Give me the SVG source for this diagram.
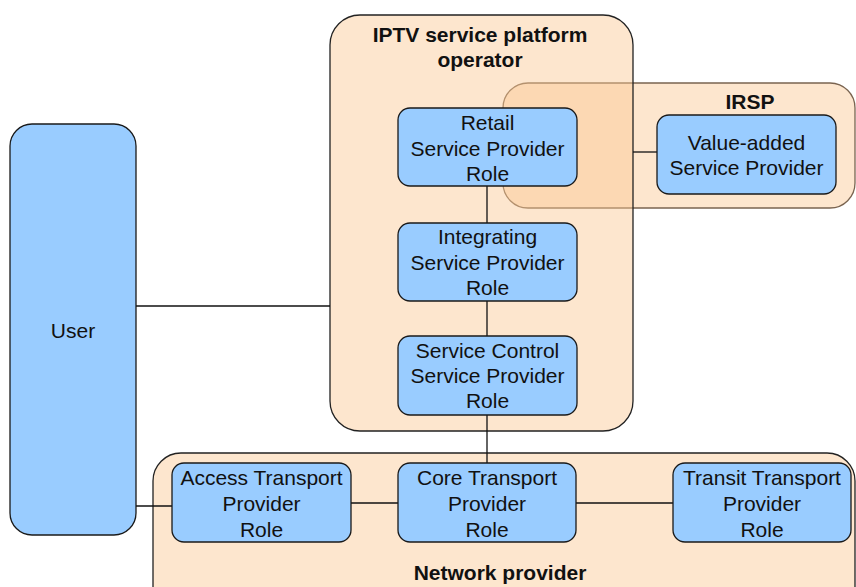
<svg xmlns="http://www.w3.org/2000/svg" width="856" height="587" viewBox="0 0 856 587">
<style>
.cont{fill:#fbc893;fill-opacity:0.45;stroke:#222;stroke-width:1.3}
.irsp{fill:#fbc893;fill-opacity:0.45;stroke:#7a6450;stroke-width:1.3}
.node{fill:#99ccff;stroke:#1a1a1a;stroke-width:1.3}
.t{font-family:"Liberation Sans",Arial,sans-serif;font-size:21px;fill:#111;text-anchor:middle}
.b{font-family:"Liberation Sans",Arial,sans-serif;font-size:21px;font-weight:bold;fill:#111;text-anchor:middle}
.c{stroke:#111;stroke-width:1.3;fill:none}
</style>
<rect width="856" height="587" fill="#fff"/>
<g id="network-provider">
<rect class="cont" x="153" y="453" width="702" height="170" rx="28"/>
<text class="b" x="500" y="580">Network provider</text>
</g>
<g id="irsp">
<rect class="irsp" x="503" y="83" width="352" height="125" rx="25"/>
<text class="b" x="750" y="109">IRSP</text>
</g>
<g id="iptv-operator">
<rect class="cont" x="330" y="15" width="303" height="416" rx="30"/>
<text class="b" x="480" y="42">IPTV service platform</text>
<text class="b" x="480" y="67">operator</text>
</g>
<g id="connectors">
<line class="c" x1="487" y1="186" x2="487" y2="223"/>
<line class="c" x1="487" y1="301" x2="487" y2="336"/>
<line class="c" x1="487" y1="415" x2="487" y2="463"/>
<line class="c" x1="136" y1="306" x2="330" y2="306"/>
<line class="c" x1="136" y1="506" x2="172" y2="506"/>
<line class="c" x1="351" y1="503" x2="398" y2="503"/>
<line class="c" x1="576" y1="503" x2="673" y2="503"/>
<line class="c" x1="633" y1="152" x2="657" y2="152"/>
</g>
<g id="user">
<rect class="node" x="10" y="124" width="126" height="411" rx="22"/>
<text class="t" x="73" y="338">User</text>
</g>
<g id="retail">
<rect class="node" x="398" y="108" width="179" height="78" rx="12"/>
<text class="t" x="487.5" y="130">Retail</text>
<text class="t" x="487.5" y="156">Service Provider</text>
<text class="t" x="487.5" y="181">Role</text>
</g>
<g id="value-added">
<rect class="node" x="657" y="115" width="179" height="79" rx="12"/>
<text class="t" x="746.5" y="150">Value-added</text>
<text class="t" x="746.5" y="175">Service Provider</text>
</g>
<g id="integrating">
<rect class="node" x="398" y="223" width="179" height="78" rx="12"/>
<text class="t" x="487.5" y="244">Integrating</text>
<text class="t" x="487.5" y="270">Service Provider</text>
<text class="t" x="487.5" y="295">Role</text>
</g>
<g id="service-control">
<rect class="node" x="398" y="336" width="179" height="79" rx="12"/>
<text class="t" x="487.5" y="358">Service Control</text>
<text class="t" x="487.5" y="383">Service Provider</text>
<text class="t" x="487.5" y="408">Role</text>
</g>
<g id="access">
<rect class="node" x="172" y="463" width="179" height="79" rx="12"/>
<text class="t" x="261.5" y="485">Access Transport</text>
<text class="t" x="261.5" y="511">Provider</text>
<text class="t" x="261.5" y="537">Role</text>
</g>
<g id="core">
<rect class="node" x="398" y="463" width="178" height="79" rx="12"/>
<text class="t" x="487" y="485">Core Transport</text>
<text class="t" x="487" y="511">Provider</text>
<text class="t" x="487" y="537">Role</text>
</g>
<g id="transit">
<rect class="node" x="673" y="463" width="178" height="79" rx="12"/>
<text class="t" x="762" y="485">Transit Transport</text>
<text class="t" x="762" y="511">Provider</text>
<text class="t" x="762" y="537">Role</text>
</g>
</svg>
